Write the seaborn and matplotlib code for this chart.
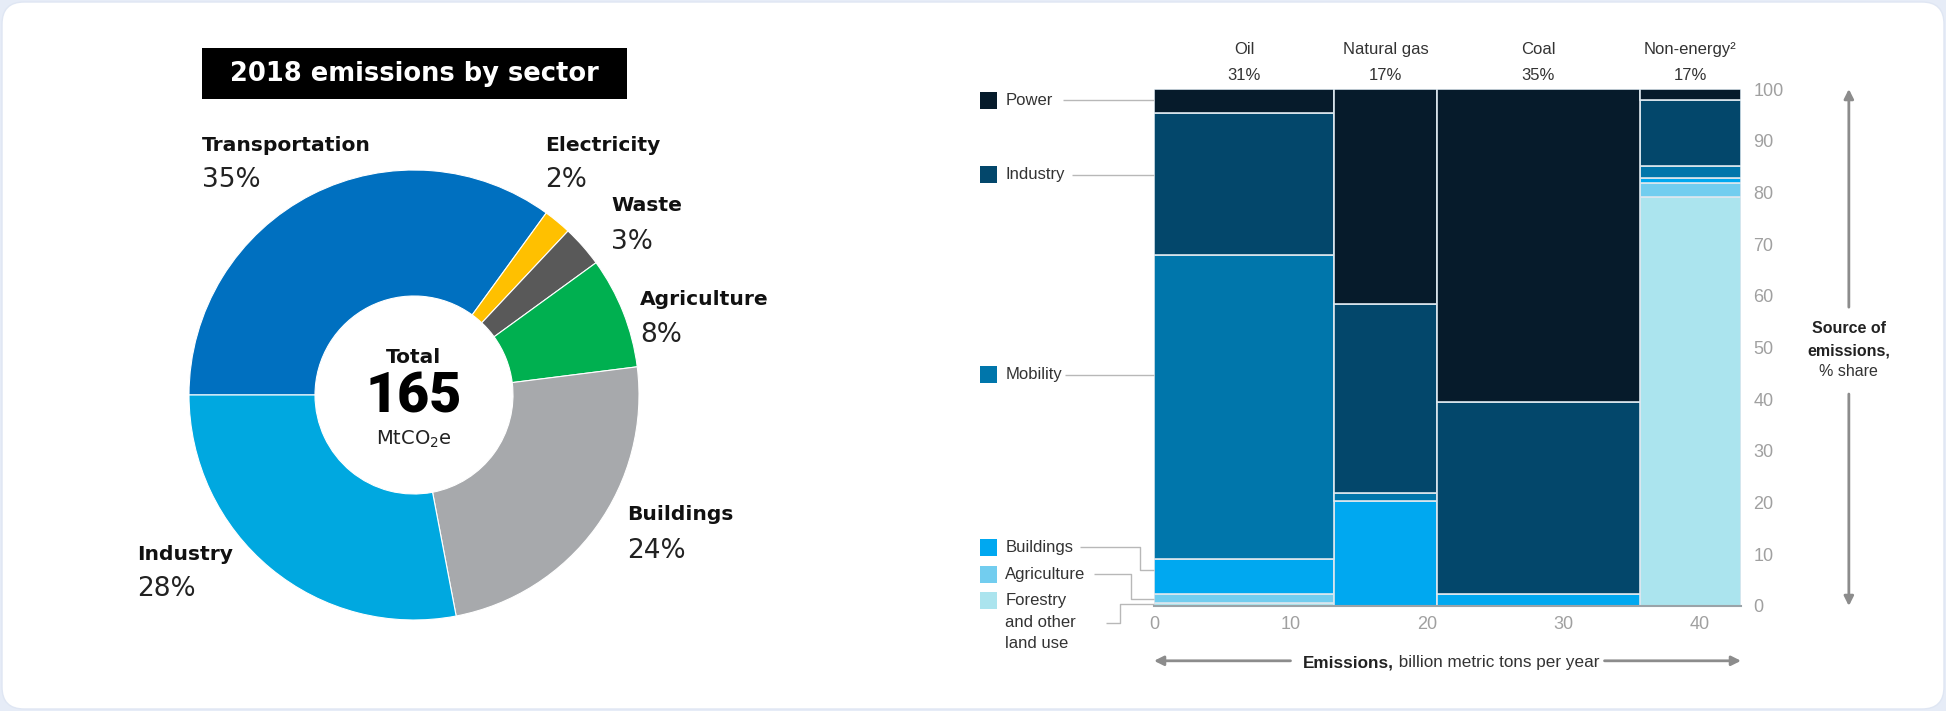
import numpy as np
import pandas as pd
import matplotlib
matplotlib.use("Agg")
import matplotlib.pyplot as plt
import matplotlib.patches as mpatches
import matplotlib.transforms as mtransforms
import seaborn as sns

# ---------------- data ----------------
pie_sectors = ["Transportation", "Electricity", "Waste", "Agriculture", "Buildings", "Industry"]
pie_shares = [35, 2, 3, 8, 24, 28]
pie_total = "165"

sources = ["Oil", "Natural gas", "Coal", "Non-energy²"]
source_pct = ["31%", "17%", "35%", "17%"]
source_emissions = [13.2, 7.5, 14.9, 7.4]   # billion metric tons per year

sectors = ["Power", "Industry", "Mobility", "Buildings", "Agriculture", "Forestry"]
share_power = [4.6, 41.6, 60.6, 2.1]
share_industry = [27.5, 36.5, 37.0, 12.8]
share_mobility = [58.9, 1.5, 0.0, 2.3]
share_buildings = [6.7, 20.4, 2.4, 1.0]
share_agriculture = [1.7, 0.0, 0.0, 2.6]
share_forestry = [0.6, 0.0, 0.0, 79.2]

x_ticks = [0, 10, 20, 30, 40]
y_ticks = [0, 10, 20, 30, 40, 50, 60, 70, 80, 90, 100]

# ---------------- styling ----------------
sns.set_theme(style="white")
plt.rcParams["font.family"] = ["Liberation Sans", "DejaVu Sans"]

pie_colors = ["#0070c0", "#ffc000", "#595959", "#00b050", "#a7a9ac", "#00a8e0"]
mm_palette = {"Power": "#061b2b", "Industry": "#03476b", "Mobility": "#0076ab",
              "Buildings": "#00a8f0", "Agriculture": "#72cdef", "Forestry": "#abe4ee"}

W, H = 1946, 711
fig = plt.figure(figsize=(W / 100, H / 100), dpi=100)
fig.patch.set_facecolor("#e6ecf7")
card = mpatches.FancyBboxPatch((2, 2), W - 4, H - 4,
                               boxstyle="round,pad=0,rounding_size=22",
                               transform=mtransforms.IdentityTransform(),
                               facecolor="white", edgecolor="#dfe6f3", lw=1, zorder=-10)
fig.add_artist(card)

# ---------------- left: donut ----------------
axp = fig.add_axes([0, 0, 0.5, 1])
axp.patch.set_alpha(0)
S, CX, CY = 225.0, 414.0, 395.0
X = lambda px: (px - CX) / S
Y = lambda py: (CY - py) / S

axp.pie(pie_shares, colors=pie_colors, startangle=180, counterclock=False, radius=1,
        wedgeprops=dict(width=0.56, edgecolor="white", linewidth=0.8))
axp.set_aspect("auto")
axp.set_xlim(X(0), X(W / 2))
axp.set_ylim(Y(H), Y(0))
axp.axis("off")

# title box
axp.add_patch(mpatches.Rectangle((X(202), Y(99)), (627 - 202) / S, (99 - 48) / S,
                                 facecolor="black", edgecolor="none", clip_on=False))
axp.text(X(414.5), Y(73.5), "2018 emissions by sector", color="white", ha="center", va="center",
         fontsize=18.5, fontweight="bold", family=["DejaVu Sans"])

label_pos = {  # label left x (px), label center y (px), pct center y (px)
    "Transportation": (202, 145, 180),
    "Electricity": (545, 145, 180),
    "Waste": (611, 205, 242),
    "Agriculture": (640, 299, 335),
    "Buildings": (627, 515, 551),
    "Industry": (137, 555, 589),
}
for name, share in zip(pie_sectors, pie_shares):
    lx, ly, py = label_pos[name]
    axp.text(X(lx), Y(ly), name, ha="left", va="center", fontsize=14.6, fontweight="bold",
             color="#111111", family=["DejaVu Sans"])
    axp.text(X(lx), Y(py), f"{share}%", ha="left", va="center", fontsize=19,
             color="#222222", family=["DejaVu Sans"])

axp.text(0, Y(357), "Total", ha="center", va="center", fontsize=14.5, fontweight="bold",
         color="#111111", family=["DejaVu Sans"])
axp.text(0, Y(397), pie_total, ha="center", va="center", fontsize=40, fontweight="black",
         color="#000000", family=["Roboto", "DejaVu Sans"])
axp.text(0, Y(439), "MtCO$_2$e", ha="center", va="center", fontsize=14,
         color="#222222", family=["DejaVu Sans"])

# ---------------- right: marimekko ----------------
L, R, T, B = 1154, 1741, 89, 606
ax = fig.add_axes([L / W, 1 - B / H, (R - L) / W, (B - T) / H])
ax.patch.set_alpha(0)

edges = [0.0] + list(np.cumsum(source_emissions))
mids = [(a + b) / 2 for a, b in zip(edges[:-1], edges[1:])]
share_table = {"Power": share_power, "Industry": share_industry, "Mobility": share_mobility,
               "Buildings": share_buildings, "Agriculture": share_agriculture,
               "Forestry": share_forestry}
rows = []
for sec in sectors:
    for m, v in zip(mids, share_table[sec]):
        rows.append({"x": m, "sector": sec, "share": v})
df = pd.DataFrame(rows)

sns.histplot(data=df, x="x", weights="share", hue="sector", hue_order=sectors, bins=edges,
             multiple="stack", palette=mm_palette, alpha=1, edgecolor="#dce7ee",
             linewidth=1.2, legend=False, ax=ax)

ax.set_xlim(0, edges[-1])
ax.set_ylim(0, 100)
ax.set_xlabel("")
ax.set_ylabel("")
ax.set_xticks(x_ticks)
ax.set_yticks(y_ticks)
ax.yaxis.tick_right()
ax.tick_params(axis="y", length=0, pad=9, labelsize=13, labelcolor="#a0a0a0")
ax.tick_params(axis="x", length=0, pad=7, labelsize=13, labelcolor="#a0a0a0")
for s in ["top", "left", "right"]:
    ax.spines[s].set_visible(False)
ax.spines["bottom"].set_color("#9aa3a8")
ax.spines["bottom"].set_linewidth(1.5)
ax.spines["bottom"].set_zorder(5)

# column headers
for m, name, pct in zip(mids, sources, source_pct):
    ax.text(m, 107.6, name, ha="center", va="center", fontsize=12, color="#333333", clip_on=False)
    ax.text(m, 102.6, pct, ha="center", va="center", fontsize=12, color="#333333", clip_on=False)

# legend with leader lines
line_kw = dict(color="#b8b8b8", lw=1, clip_on=False, solid_capstyle="butt")
leg_y = {"Power": 97.8, "Industry": 83.4, "Mobility": 44.7, "Buildings": 11.4,
         "Agriculture": 6.1, "Forestry": 1.0}
for sec in sectors:
    yv = leg_y[sec]
    ax.add_patch(mpatches.Rectangle((-12.75, yv - 1.65), 1.25, 3.3, facecolor=mm_palette[sec],
                                    edgecolor="none", clip_on=False))
    ax.text(-10.9, yv, sec, ha="left", va="center", fontsize=12, color="#333333",
            clip_on=False)
ax.text(-10.9, -3.2, "and other", ha="left", va="center", fontsize=12, color="#333333", clip_on=False)
ax.text(-10.9, -7.3, "land use", ha="left", va="center", fontsize=12, color="#333333", clip_on=False)

ax.plot([-6.7, 0], [97.8, 97.8], **line_kw)
ax.plot([-6.0, 0], [83.4, 83.4], **line_kw)
ax.plot([-6.5, 0], [44.7, 44.7], **line_kw)
ax.plot([-5.4, -1.05, -1.05, 0], [11.4, 11.4, 7.0, 7.0], **line_kw)
ax.plot([-4.4, -1.7, -1.7, 0], [6.1, 6.1, 1.3, 1.3], **line_kw)
ax.plot([-3.5, -2.5, -2.5, 0], [-3.3, -3.3, 0.3, 0.3], **line_kw)

# right-hand axis title with arrows
arr = dict(arrowstyle="-|>", color="#8c8c8c", lw=2, mutation_scale=14, shrinkA=0, shrinkB=0)
ax.annotate("", xy=(50.9, 100), xytext=(50.9, 57.8), arrowprops=arr, annotation_clip=False)
ax.annotate("", xy=(50.9, 0), xytext=(50.9, 41.0), arrowprops=arr, annotation_clip=False)
ax.text(50.9, 53.6, "Source of", ha="center", va="center", fontsize=11.5, fontweight="bold",
        color="#222222", clip_on=False)
ax.text(50.9, 49.4, "emissions,", ha="center", va="center", fontsize=11.5, fontweight="bold",
        color="#222222", clip_on=False)
ax.text(50.9, 45.3, "% share", ha="center", va="center", fontsize=11.5, color="#333333",
        clip_on=False)

# bottom axis title with arrows
ax.annotate("", xy=(0, -10.6), xytext=(10.0, -10.6), arrowprops=arr, annotation_clip=False)
ax.annotate("", xy=(edges[-1], -10.6), xytext=(33.0, -10.6), arrowprops=arr, annotation_clip=False)
t1 = ax.text(10.9, -11.8, "Emissions,", ha="left", va="baseline", fontsize=12.3,
             fontweight="bold", color="#222222", clip_on=False)
ax.annotate(" billion metric tons per year", xy=(1, -11.8), xycoords=(t1, "data"),
            ha="left", va="baseline", fontsize=12.3, color="#333333", annotation_clip=False)

fig.savefig("out.png", dpi=100, facecolor=fig.get_facecolor())
